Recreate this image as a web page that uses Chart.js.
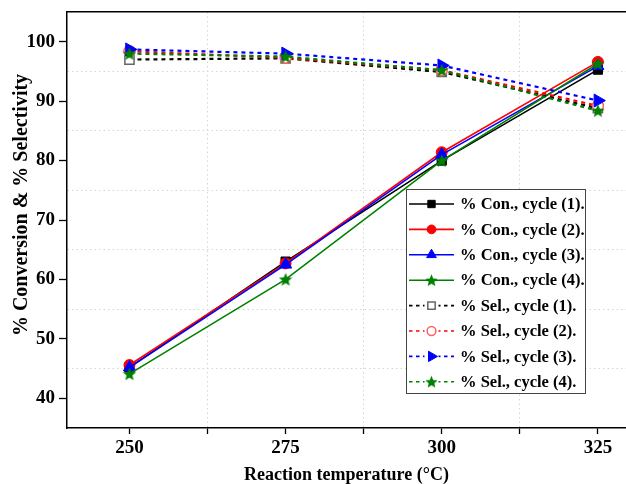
<!DOCTYPE html>
<html>
<head>
<meta charset="utf-8">
<script src="https://cdn.jsdelivr.net/npm/chart.js@4/dist/chart.umd.min.js"></script>
<style>
  html, body { margin: 0; padding: 0; background: #fff; }
  canvas { display: block; }
</style>
</head>
<body>
<canvas id="c" width="626" height="484"></canvas>
<script>
// ---- data ----
const temperatures = [250, 275, 300, 325];
const conCycle1 = [45.2, 63.0, 80.0, 95.3];
const conCycle2 = [45.6, 62.7, 81.4, 96.6];
const conCycle3 = [45.2, 62.5, 81.0, 95.9];
const conCycle4 = [44.1, 60.0, 80.0, 96.3];
const selCycle1 = [97.0, 97.2, 94.9, 88.8];
const selCycle2 = [98.4, 97.3, 95.2, 89.2];
const selCycle3 = [98.7, 98.0, 96.0, 90.1];
const selCycle4 = [98.0, 97.5, 95.2, 88.4];
const seriesLabels = [
  '% Con., cycle (1).', '% Con., cycle (2).', '% Con., cycle (3).', '% Con., cycle (4).',
  '% Sel., cycle (1).', '% Sel., cycle (2).', '% Sel., cycle (3).', '% Sel., cycle (4).'
];
const xTickValues = [250, 262.5, 275, 287.5, 300, 312.5, 325];
const yTickValues = [40, 45, 50, 55, 60, 65, 70, 75, 80, 85, 90, 95, 100];

const SERIF = "'Liberation Serif', 'Times New Roman', serif";
const GREEN = '#008000';

function makeStar(color, size) {
  const c = document.createElement('canvas');
  c.width = size; c.height = size;
  const g = c.getContext('2d');
  const cx = size / 2, cy = size / 2 + 0.5, R = size / 2, r = R * 0.45;
  g.beginPath();
  for (let k = 0; k < 10; k++) {
    const a = -Math.PI / 2 + k * Math.PI / 5;
    const rr = (k % 2) ? r : R;
    g.lineTo(cx + rr * Math.cos(a), cy + rr * Math.sin(a));
  }
  g.closePath();
  g.fillStyle = color;
  g.fill();
  return c;
}
const starImg = makeStar(GREEN, 14);
const starImgSmall = makeStar(GREEN, 13);

const pts = arr => temperatures.map((t, i) => ({ x: t, y: arr[i] }));

function con(label, arr, color, style, radius, extra) {
  return Object.assign({
    label, data: pts(arr), borderColor: color, backgroundColor: color,
    borderWidth: 1.6, pointStyle: style, pointRadius: radius,
    pointBackgroundColor: color, pointBorderColor: color, pointBorderWidth: 1,
    tension: 0, fill: false
  }, extra || {});
}
function sel(label, arr, color, style, radius, extra) {
  return Object.assign({
    label, data: pts(arr), borderColor: color, backgroundColor: color,
    borderWidth: 2.2, borderDash: [4, 4], pointStyle: style, pointRadius: radius,
    pointBackgroundColor: color, pointBorderColor: color, pointBorderWidth: 1,
    tension: 0, fill: false
  }, extra || {});
}

const datasets = [
  con(seriesLabels[0], conCycle1, '#000000', 'rect', 6.5),
  con(seriesLabels[1], conCycle2, '#ff0000', 'circle', 5.5),
  con(seriesLabels[2], conCycle3, '#0000ff', 'triangle', 7),
  con(seriesLabels[3], conCycle4, GREEN, starImg, 7),
  sel(seriesLabels[4], selCycle1, '#000000', 'rect', 6.5, { pointBackgroundColor: '#ffffff', pointBorderColor: '#666666', pointBorderWidth: 1.5 }),
  sel(seriesLabels[5], selCycle2, '#ff0000', 'circle', 5.5, { pointBackgroundColor: '#ffffff', pointBorderColor: '#ff6060', pointBorderWidth: 1.5 }),
  sel(seriesLabels[6], selCycle3, '#0000ff', 'triangle', 7.5, { pointRotation: 90 }),
  sel(seriesLabels[7], selCycle4, GREEN, starImg, 7)
];
datasets.forEach((d, i) => { d.order = datasets.length - i; });

const boxLegend = {
  id: 'boxLegend',
  afterDraw(chart) {
    const ctx = chart.ctx;
    const x0 = 406, y0 = 189, w = 179, h = 204;
    ctx.save();
    ctx.fillStyle = '#ffffff';
    ctx.fillRect(x0, y0, w, h);
    ctx.strokeStyle = '#444444';
    ctx.lineWidth = 1;
    ctx.strokeRect(x0 + 0.5, y0 + 0.5, w, h);
    chart.data.datasets.forEach((ds, i) => {
      const cy = y0 + 15 + i * 25.4;
      ctx.strokeStyle = ds.borderColor;
      ctx.lineWidth = ds.borderDash ? 1.6 : ds.borderWidth;
      ctx.setLineDash(ds.borderDash ? [3.5, 3.5] : []);
      ctx.beginPath();
      ctx.moveTo(x0 + 3, cy);
      ctx.lineTo(x0 + 48, cy);
      ctx.stroke();
      ctx.setLineDash([]);
      const mx = x0 + 25.5;
      let style = ds.pointStyle === starImg ? starImgSmall : ds.pointStyle;
      ctx.fillStyle = '#ffffff';
      if (ds.borderDash) {
        ctx.fillRect(mx - 7, cy - 6, 14, 12);
      }
      ctx.fillStyle = ds.pointBackgroundColor;
      ctx.strokeStyle = ds.pointBorderColor;
      ctx.lineWidth = ds.pointBorderWidth;
      Chart.helpers.drawPoint(ctx, {
        pointStyle: style, rotation: ds.pointRotation || 0,
        radius: ds.pointRadius * 0.8, borderWidth: ds.pointBorderWidth
      }, mx, cy);
      ctx.fillStyle = '#000000';
      ctx.font = 'bold 16.5px ' + SERIF;
      ctx.textBaseline = 'middle';
      ctx.textAlign = 'left';
      ctx.fillText(ds.label, x0 + 54, cy + 1);
    });
    ctx.restore();
  }
};

const tickFont = { family: SERIF, size: 19, weight: 'bold' };

new Chart(document.getElementById('c'), {
  type: 'line',
  data: { datasets },
  plugins: [boxLegend],
  options: {
    responsive: false,
    animation: false,
    layout: { padding: 0, autoPadding: false },
    plugins: { legend: { display: false }, tooltip: { enabled: false } },
    scales: {
      x: {
        type: 'linear', position: 'bottom', min: 240, max: 329.5,
        afterBuildTicks: s => { s.ticks = xTickValues.map(v => ({ value: v })); },
        afterFit: s => { s.height = 56; s.paddingLeft = 0; s.paddingRight = 0; },
        ticks: {
          callback: v => (v % 25 === 0 ? String(v) : ''),
          font: tickFont, color: '#000', padding: 3, maxRotation: 0, autoSkip: false
        },
        grid: {
          color: c => (c.tick && c.tick.value % 25 !== 0) ? '#d4d4d4' : 'rgba(0,0,0,0)',
          tickColor: '#000', tickLength: 6, lineWidth: 1, tickWidth: 1.3
        },
        border: { color: '#000', width: 1.5, dash: [1.5, 3] },
        title: { display: true, text: 'Reaction temperature (°C)', font: { family: SERIF, size: 18, weight: 'bold', lineHeight: 1 }, color: '#000', padding: { top: 0, bottom: 0 } }
      },
      x2: {
        type: 'linear', position: 'top', min: 240, max: 329.5,
        afterFit: s => { s.height = 12; s.paddingLeft = 0; s.paddingRight = 0; },
        ticks: { display: false },
        grid: { display: false, drawTicks: false },
        border: { display: true, color: '#000', width: 1.5 }
      },
      y: {
        type: 'linear', position: 'left', min: 35, max: 105,
        afterBuildTicks: s => { s.ticks = yTickValues.map(v => ({ value: v })); },
        afterFit: s => { s.width = 67; s.paddingTop = 0; s.paddingBottom = 0; },
        ticks: {
          callback: v => (v % 10 === 0 ? String(v) : ''),
          font: tickFont, color: '#000', padding: 4, autoSkip: false
        },
        grid: {
          color: c => (c.tick && c.tick.value % 10 !== 0) ? '#d4d4d4' : 'rgba(0,0,0,0)',
          tickColor: c => (c.tick && c.tick.value % 10 === 0) ? '#000' : 'rgba(0,0,0,0)',
          tickLength: 8, lineWidth: 1, tickWidth: 1.3
        },
        border: { color: '#000', width: 1.5, dash: [1.5, 3] },
        title: { display: true, text: '\u00A0\u00A0\u00A0\u00A0\u00A0\u00A0% Conversion & % Selectivity', font: { family: SERIF, size: 20, weight: 'bold', lineHeight: 1 }, color: '#000', padding: { top: 12, bottom: 0 } }
      }
    }
  }
});
</script>
</body>
</html>
